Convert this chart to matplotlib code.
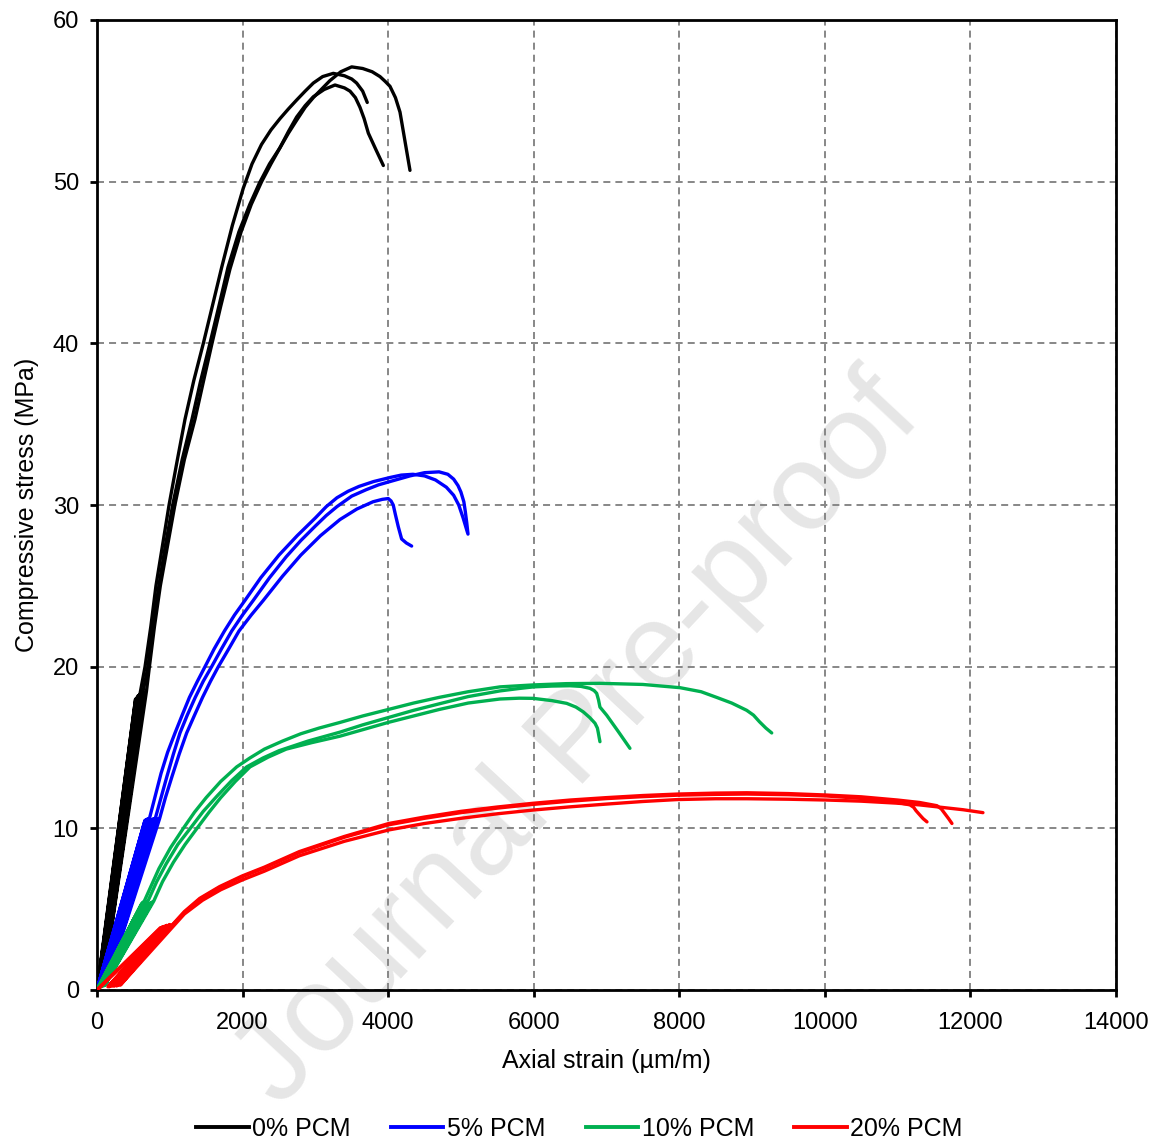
import matplotlib
matplotlib.use("Agg")
import matplotlib.pyplot as plt
from matplotlib.lines import Line2D

plt.rcParams['font.family'] = ['Liberation Sans', 'DejaVu Sans']

# ---- stress-strain data (strain in µm/m, stress in MPa) ----
# each specimen: initial load/unload cycles followed by the monotonic branch
strain_0pcm = [
    [0, 530, 10, 550, 30, 565, 50, 580, 60, 590,
     660, 740, 810, 900, 990, 1100, 1209, 1330, 1461, 1590, 1713, 1860, 2010, 2130, 2260, 2390,
     2514, 2630, 2743, 2860, 2972, 3100, 3247, 3400, 3500, 3567, 3650, 3713],
    [0, 600, 40, 620, 60, 640, 80, 660, 90, 680,
     720, 790, 870, 970, 1070, 1200, 1346, 1460, 1575, 1700, 1827, 1980, 2120, 2262, 2390,
     2514, 2630, 2743, 2860, 2972, 3200, 3350, 3499, 3650, 3780, 3888, 3960, 4025, 4100, 4163, 4300],
    [0, 560, 20, 580, 40, 600, 60, 615, 75, 630,
     700, 770, 850, 940, 1040, 1170, 1305, 1420, 1552, 1680, 1800, 1950, 2100, 2230, 2370,
     2514, 2630, 2743, 2860, 2972, 3120, 3270, 3400, 3476, 3550, 3613, 3670, 3728, 3830, 3934],
]
stress_0pcm = [
    [0, 18.0, 0.2, 18.1, 0.3, 18.2, 0.4, 18.25, 0.4, 18.3,
     20.0, 22.5, 25.0, 27.5, 30.0, 32.7, 35.3, 37.7, 40.0, 42.4, 44.7, 47.3, 49.6, 51.1, 52.3, 53.2,
     53.9, 54.5, 55.05, 55.6, 56.1, 56.5, 56.7, 56.55, 56.35, 56.1, 55.6, 54.9],
    [0, 18.1, 0.3, 18.2, 0.4, 18.3, 0.5, 18.4, 0.5, 18.5,
     20.0, 22.5, 25.0, 27.5, 30.0, 32.8, 35.3, 37.6, 39.9, 42.3, 44.6, 46.9, 48.6, 50.0, 51.1,
     52.1, 53.0, 53.8, 54.6, 55.2, 56.25, 56.8, 57.1, 57.0, 56.8, 56.5, 56.2, 55.9, 55.2, 54.3, 50.7],
    [0, 18.0, 0.2, 18.1, 0.3, 18.2, 0.4, 18.3, 0.5, 18.4,
     20.0, 22.5, 25.0, 27.5, 30.0, 32.8, 35.3, 37.6, 40.0, 42.4, 44.7, 46.9, 48.6, 49.9, 51.1,
     52.1, 53.1, 54.0, 54.7, 55.25, 55.7, 55.98, 55.8, 55.6, 55.2, 54.6, 53.9, 53.0, 52.0, 51.0],
]

strain_5pcm = [
    [0, 660, 10, 680, 30, 700, 50, 720,
     800, 880, 970, 1072, 1170, 1270, 1380, 1484, 1610, 1750, 1890, 2033, 2250, 2500, 2750, 3000,
     3150, 3297, 3450, 3600, 3800, 4025, 4180, 4341, 4500, 4650, 4800, 4900, 4970, 5030, 5090],
    [0, 730, 40, 750, 70, 775, 100, 800,
     880, 960, 1050, 1140, 1240, 1350, 1460, 1575, 1710, 1850, 2000, 2147, 2370, 2600, 2800, 3000,
     3150, 3297, 3500, 3700, 3870, 4025, 4300, 4500, 4700, 4820, 4900, 4960, 5000, 5040, 5060, 5080, 5097],
    [0, 790, 70, 810, 100, 835, 130, 860,
     940, 1030, 1130, 1232, 1340, 1450, 1560, 1667, 1810, 1950, 2120, 2285, 2550, 2800, 3070, 3338,
     3570, 3792, 3920, 4002, 4040, 4070, 4100, 4139, 4185, 4250, 4323],
]
stress_5pcm = [
    [0, 10.5, 0.2, 10.55, 0.3, 10.6, 0.35, 10.6,
     12.0, 13.4, 14.7, 15.9, 17.0, 18.1, 19.1, 20.0, 21.1, 22.2, 23.2, 24.1, 25.5, 26.9, 28.1, 29.2,
     29.9, 30.45, 30.85, 31.15, 31.45, 31.7, 31.85, 31.9, 31.8, 31.55, 31.1, 30.6, 30.0, 29.2, 28.3],
    [0, 10.5, 0.25, 10.55, 0.3, 10.6, 0.35, 10.6,
     11.9, 13.2, 14.6, 15.9, 17.0, 18.1, 19.1, 20.0, 21.1, 22.2, 23.2, 24.1, 25.5, 26.8, 27.8, 28.7,
     29.35, 29.9, 30.55, 30.95, 31.25, 31.45, 31.8, 32.0, 32.05, 31.9, 31.6, 31.2, 30.8, 30.2, 29.6, 28.9, 28.2],
    [0, 10.5, 0.3, 10.55, 0.35, 10.6, 0.4, 10.6,
     11.9, 13.2, 14.6, 15.9, 17.0, 18.1, 19.1, 20.0, 21.1, 22.2, 23.2, 24.1, 25.6, 26.9, 28.1, 29.1,
     29.75, 30.2, 30.35, 30.4, 30.25, 30.0, 29.4, 28.66, 27.9, 27.65, 27.46],
]

strain_10pcm = [
    [0, 610, 20, 625, 40, 640, 55, 650,
     750, 850, 1010, 1186, 1340, 1500, 1700, 1919, 2100, 2300, 2550, 2800, 3050, 3338, 3650, 4000,
     4350, 4700, 5100, 5536, 5990, 6450, 6910, 7500, 8010, 8300, 8513, 8720, 8926, 9020, 9100, 9190, 9270],
    [0, 650, 40, 665, 65, 685, 85, 700,
     820, 950, 1110, 1282, 1460, 1650, 1850, 2056, 2280, 2500, 2900, 3338, 3650, 4000, 4350, 4700,
     5100, 5536, 5800, 6000, 6250, 6500, 6650, 6773, 6830, 6865, 6890, 6910, 7002, 7160, 7322],
    [0, 720, 60, 740, 90, 760, 110, 780,
     900, 1050, 1210, 1374, 1540, 1700, 1900, 2102, 2350, 2600, 2950, 3338, 3650, 4000, 4350, 4700,
     5100, 5536, 5800, 5990, 6250, 6453, 6580, 6682, 6770, 6842, 6875, 6888, 6900, 6910],
]
stress_10pcm = [
    [0, 5.3, 0.2, 5.4, 0.25, 5.45, 0.3, 5.5,
     6.5, 7.5, 8.8, 10.0, 11.0, 11.9, 12.9, 13.8, 14.35, 14.9, 15.4, 15.85, 16.2, 16.55, 16.95, 17.35,
     17.75, 18.1, 18.45, 18.75, 18.87, 18.95, 18.97, 18.9, 18.7, 18.45, 18.1, 17.75, 17.3, 17.0, 16.6, 16.2, 15.9],
    [0, 5.3, 0.2, 5.4, 0.25, 5.45, 0.3, 5.5,
     6.7, 7.8, 9.0, 10.0, 11.05, 12.0, 12.95, 13.8, 14.35, 14.8, 15.4, 15.95, 16.4, 16.85, 17.3, 17.7,
     18.15, 18.5, 18.65, 18.75, 18.8, 18.82, 18.78, 18.66, 18.52, 18.35, 17.95, 17.5, 17.0, 16.0, 14.95],
    [0, 5.3, 0.2, 5.4, 0.25, 5.45, 0.3, 5.5,
     6.7, 7.9, 9.0, 10.0, 11.0, 11.9, 12.9, 13.8, 14.4, 14.9, 15.3, 15.7, 16.1, 16.55, 16.95, 17.35,
     17.75, 18.0, 18.05, 18.04, 17.9, 17.73, 17.5, 17.2, 16.85, 16.5, 16.2, 15.9, 15.6, 15.36],
]

strain_20pcm = [
    [0, 900, 200, 950, 240, 990, 280, 1020, 320, 1060,
     1200, 1450, 1700, 1992, 2300, 2779, 3400, 4009, 4500, 5000, 5500, 5990, 6500, 7000, 7500,
     7974, 8500, 8930, 9500, 10023, 10500, 10977, 11300, 11600, 11900, 12172],
    [0, 870, 150, 900, 180, 930, 210, 960, 240, 1000, 260, 1050,
     1200, 1412, 1686, 1992, 2300, 2779, 3400, 4009, 4500, 5000, 5500, 5990, 6500, 7000, 7500,
     7974, 8500, 8930, 9500, 10023, 10500, 11000, 11300, 11540, 11600, 11650, 11700, 11746],
    [0, 880, 170, 920, 230, 970, 270, 1000, 300, 1040,
     1200, 1412, 1686, 1992, 2300, 2779, 3400, 4009, 4500, 5000, 5500, 5990, 6500, 7000, 7500,
     7974, 8500, 8930, 9500, 10023, 10500, 10977, 11169, 11220, 11251, 11300, 11350, 11403],
]
stress_20pcm = [
    [0, 3.9, 0.25, 3.95, 0.25, 4.0, 0.3, 4.0, 0.3, 4.0,
     4.7, 5.55, 6.2, 6.8, 7.35, 8.3, 9.2, 9.9, 10.3, 10.62, 10.9, 11.13, 11.33, 11.5, 11.66,
     11.78, 11.83, 11.83, 11.8, 11.75, 11.68, 11.56, 11.45, 11.3, 11.15, 10.97],
    [0, 3.85, 0.2, 3.9, 0.25, 3.95, 0.25, 4.0, 0.3, 4.05, 0.3, 4.1,
     4.85, 5.67, 6.4, 7.05, 7.6, 8.56, 9.5, 10.3, 10.7, 11.05, 11.32, 11.55, 11.75, 11.9, 12.03,
     12.12, 12.18, 12.2, 12.15, 12.06, 11.95, 11.75, 11.6, 11.4, 11.2, 10.9, 10.6, 10.3],
    [0, 3.85, 0.2, 3.9, 0.25, 3.95, 0.25, 4.0, 0.3, 4.05,
     4.8, 5.62, 6.35, 7.0, 7.55, 8.5, 9.45, 10.22, 10.62, 10.97, 11.25, 11.48, 11.68, 11.84, 11.96,
     12.05, 12.1, 12.12, 12.08, 12.0, 11.85, 11.62, 11.45, 11.3, 11.1, 10.85, 10.6, 10.4],
]

groups = ['0% PCM', '5% PCM', '10% PCM', '20% PCM']
colors = ['#000000', '#0000FF', '#00B050', '#FF0000']
strains = [strain_0pcm, strain_5pcm, strain_10pcm, strain_20pcm]
stresses = [stress_0pcm, stress_5pcm, stress_10pcm, stress_20pcm]

x_ticks = [0, 2000, 4000, 6000, 8000, 10000, 12000, 14000]
y_ticks = [0, 10, 20, 30, 40, 50, 60]

# ---- figure ----
fig = plt.figure(figsize=(11.59, 11.39), dpi=100)
fig.patch.set_facecolor('white')
ax = fig.add_axes([97 / 1159, 1 - 990 / 1139, (1116 - 97) / 1159, (990 - 20) / 1139])
ax.patch.set_visible(False)

fig.text(578 / 1159, 1 - 742 / 1139, 'Journal Pre-proof', fontsize=88,
         color='#e6e6e6', rotation=47, rotation_mode='anchor',
         ha='center', va='center', zorder=-1)

for name, col, sx, sy in zip(groups, colors, strains, stresses):
    for xs, ys in zip(sx, sy):
        ax.plot(xs, ys, color=col, lw=2.4, solid_joinstyle='round',
                solid_capstyle='round', zorder=3)

ax.set_xlim(0, 14000)
ax.set_ylim(0, 60)
ax.set_xticks(x_ticks)
ax.set_yticks(y_ticks)
ax.grid(True, color='#878787', lw=1.4, linestyle=(0, (3.6, 2.6)), zorder=1)
ax.set_axisbelow(True)
for s in ax.spines.values():
    s.set_linewidth(2.0)
    s.set_color('black')
ax.tick_params(direction='out', length=5, width=2.0, labelsize=17, colors='black')
ax.tick_params(axis='x', pad=10.5)
ax.tick_params(axis='y', pad=8)

ax.set_xlabel('Axial strain (µm/m)', fontsize=18, labelpad=11)
ax.set_ylabel('Compressive stress (MPa)', fontsize=18, labelpad=10)

handles = [Line2D([0], [0], color=c, lw=2.8) for c in colors]
fig.legend(handles, groups, loc='center', bbox_to_anchor=(0.5, 0.009), ncol=4,
           frameon=False, fontsize=18, handlelength=2.1, handletextpad=0.15,
           columnspacing=1.6, borderaxespad=0, borderpad=0)

fig.savefig('out.png', dpi=100, facecolor='white')
